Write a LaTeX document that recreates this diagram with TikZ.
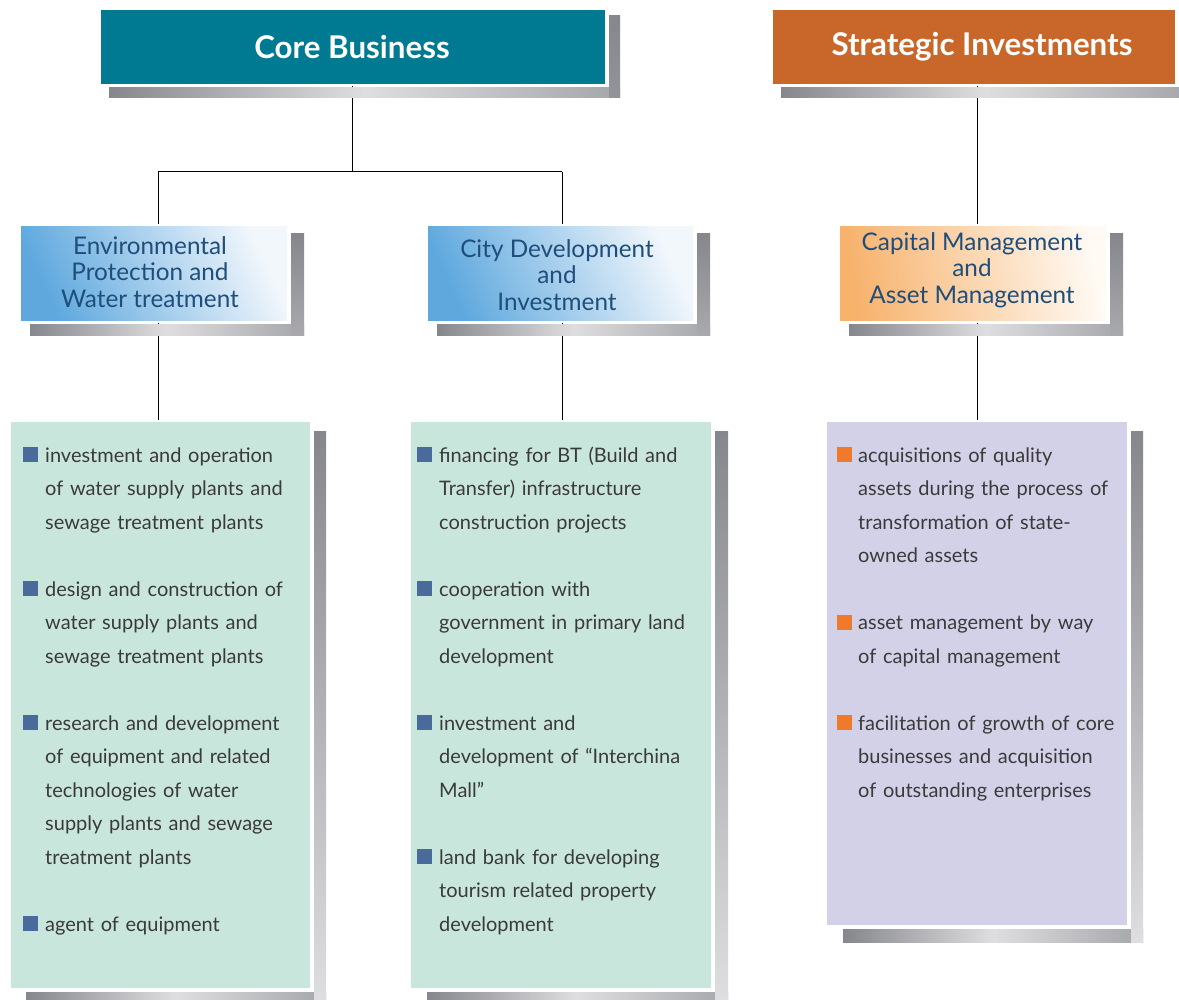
\documentclass[tikz,border=0pt]{standalone}
\usepackage{fontspec}
\setmainfont{Lato}
\usetikzlibrary{calc}
\definecolor{coreblue}{HTML}{007A93}
\definecolor{stratorange}{HTML}{C9672B}
\definecolor{subtext}{HTML}{1F4E7A}
\definecolor{bodytext}{HTML}{3A3A3A}
\definecolor{mint}{HTML}{C9E6DC}
\definecolor{lav}{HTML}{D3D1E8}
\definecolor{bulblue}{HTML}{4A6A9C}
\definecolor{bulorange}{HTML}{F07A2A}
\definecolor{blueA}{HTML}{5EA8DE}
\definecolor{blueB}{HTML}{F2F7FC}
\definecolor{orA}{HTML}{F7B26C}
\definecolor{orB}{HTML}{FFFAF4}
\definecolor{shdark}{HTML}{86878C}
\definecolor{shlight}{HTML}{DEDEE0}
\definecolor{shmid}{HTML}{A5A6AA}
% #1 box right x, #2 box bottom y, #3 sx1, #4 sy1, #5 sx2, #6 sy2, #7 bottom colour of right bar
\newcommand\boxshadow[7]{%
  \shade[left color=shdark, right color=shmid, middle color=shlight] (#3,#2+4) rectangle (#5,#6);
  \shade[top color=shdark, bottom color=#7] (#1+4,#4) rectangle (#5,#6);
}
\tikzset{
  conn/.style={draw=black, line width=1pt},
  headbox/.style={anchor=north west, inner sep=0, draw=white, line width=2pt},
  headtext/.style={text=white, font=\fontsize{31.3}{34}\selectfont\bfseries},
  subbox/.style={anchor=north west, inner sep=0, draw=white, line width=2pt},
  subtextstyle/.style={text=subtext, align=center, font=\fontsize{24.3}{26.5}\selectfont},
  listbox/.style={anchor=north west, inner sep=0, draw=white, line width=2pt},
  bodyitem/.style={anchor=base west, inner sep=0, text width=275pt, align=left,
    text=bodytext, font=\fontsize{20}{33.5}\selectfont},
}
\begin{document}
\begin{tikzpicture}[x=1pt,y=-1pt]
\useasboundingbox (0,0) rectangle (1179,1000);
\fill[white] (0,0) rectangle (1179,1000);

% ---------- connectors (behind everything) ----------
\coordinate (jl) at (158,172);
\coordinate (jm) at (352,172);
\coordinate (jr) at (562,172);
\coordinate (jc) at (977,172);
\coordinate (corebot) at (352,84);
\coordinate (stratbot) at (977,84);
\draw[conn] (corebot) -- (jm);
\draw[conn] (jl) -- (jr);
\draw[conn] (jl) -- (158,226);
\draw[conn] (jr) -- (562,226);
\draw[conn] (158,321) -- (158,422);
\draw[conn] (562,321) -- (562,422);
\draw[conn] (stratbot) -- (977,226);
\draw[conn] (977,321) -- (977,422);

% ---------- shadows ----------
\boxshadow{605}{84}{109}{16}{620}{98}{shdark!85!shlight}
\boxshadow{1175}{84}{781}{16}{1190}{98}{shdark!85!shlight}
\boxshadow{287}{321}{30}{234}{304}{336}{shdark!60!shlight}
\boxshadow{693}{321}{437}{234}{710}{336}{shdark!60!shlight}
\boxshadow{1106}{321}{849}{234}{1123}{336}{shdark!60!shlight}
\boxshadow{310}{988}{26}{432}{326}{1000}{shlight}
\boxshadow{711}{988}{427}{432}{728}{1000}{shlight}
\boxshadow{1127}{925}{843}{432}{1143}{942}{shlight}

% ---------- header boxes ----------
\node[headbox, fill=coreblue, minimum width=506pt, minimum height=76pt] (core) at (99,8) {};
\node[headtext] (coreT) at (352,47) {Core Business};
\node[headbox, fill=stratorange, minimum width=404pt, minimum height=76pt] (strat) at (771,8) {};
\node[headtext] (stratT) at (982,47) {Strategic Investments};

% ---------- sub boxes ----------
\node[subbox, left color=blueA, right color=blueB, shading angle=115,
      minimum width=268pt, minimum height=97pt] (env) at (19,224) {};
\node[subtextstyle] (envT) at (150,272) {Environmental\\Protection and\\Water treatment};
\node[subbox, left color=blueA, right color=blueB, shading angle=115,
      minimum width=267pt, minimum height=97pt] (city) at (426,224) {};
\node[subtextstyle] (cityT) at (557,275) {City Development\\and\\Investment};
\node[subbox, left color=orA, right color=orB, shading angle=100,
      minimum width=268pt, minimum height=97pt] (cap) at (838,224) {};
\node[subtextstyle] (capT) at (972,270) {Capital Management\\and\\Asset Management};

% ---------- list boxes ----------
\node[listbox, fill=mint, minimum width=301pt, minimum height=568pt] (envL) at (9,420) {};
\node[listbox, fill=mint, minimum width=302pt, minimum height=568pt] (cityL) at (409,420) {};
\node[listbox, fill=lav, minimum width=302pt, minimum height=505pt] (capL) at (825,420) {};

% left list
\fill[bulblue] (23,447) rectangle (38,462);
\node[bodyitem] (l1) at (45,462) {investment and operation\\of water supply plants and\\sewage treatment plants};
\fill[bulblue] (23,581) rectangle (38,596);
\node[bodyitem] (l2) at (45,596) {design and construction of\\water supply plants and\\sewage treatment plants};
\fill[bulblue] (23,715) rectangle (38,730);
\node[bodyitem] (l3) at (45,730) {research and development\\of equipment and related\\technologies of water\\supply plants and sewage\\treatment plants};
\fill[bulblue] (23,916) rectangle (38,931);
\node[bodyitem] (l4) at (45,931) {agent of equipment};

% middle list
\fill[bulblue] (417,447) rectangle (432,462);
\node[bodyitem] (m1) at (439,462) {financing for BT (Build and\\Transfer) infrastructure\\construction projects};
\fill[bulblue] (417,581) rectangle (432,596);
\node[bodyitem] (m2) at (439,596) {cooperation with\\government in primary land\\development};
\fill[bulblue] (417,715) rectangle (432,730);
\node[bodyitem] (m3) at (439,730) {investment and\\development of “Interchina\\Mall”};
\fill[bulblue] (417,849) rectangle (432,864);
\node[bodyitem] (m4) at (439,864) {land bank for developing\\tourism related property\\development};

% right list
\fill[bulorange] (837,447) rectangle (852,462);
\node[bodyitem] (r1) at (858,462) {acquisitions of quality\\assets during the process of\\transformation of state-\\owned assets};
\fill[bulorange] (837,614.5) rectangle (852,629.5);
\node[bodyitem] (r2) at (858,629.5) {asset management by way\\of capital management};
\fill[bulorange] (837,715) rectangle (852,730);
\node[bodyitem] (r3) at (858,730) {facilitation of growth of core\\businesses and acquisition\\of outstanding enterprises};
\end{tikzpicture}
\end{document}
